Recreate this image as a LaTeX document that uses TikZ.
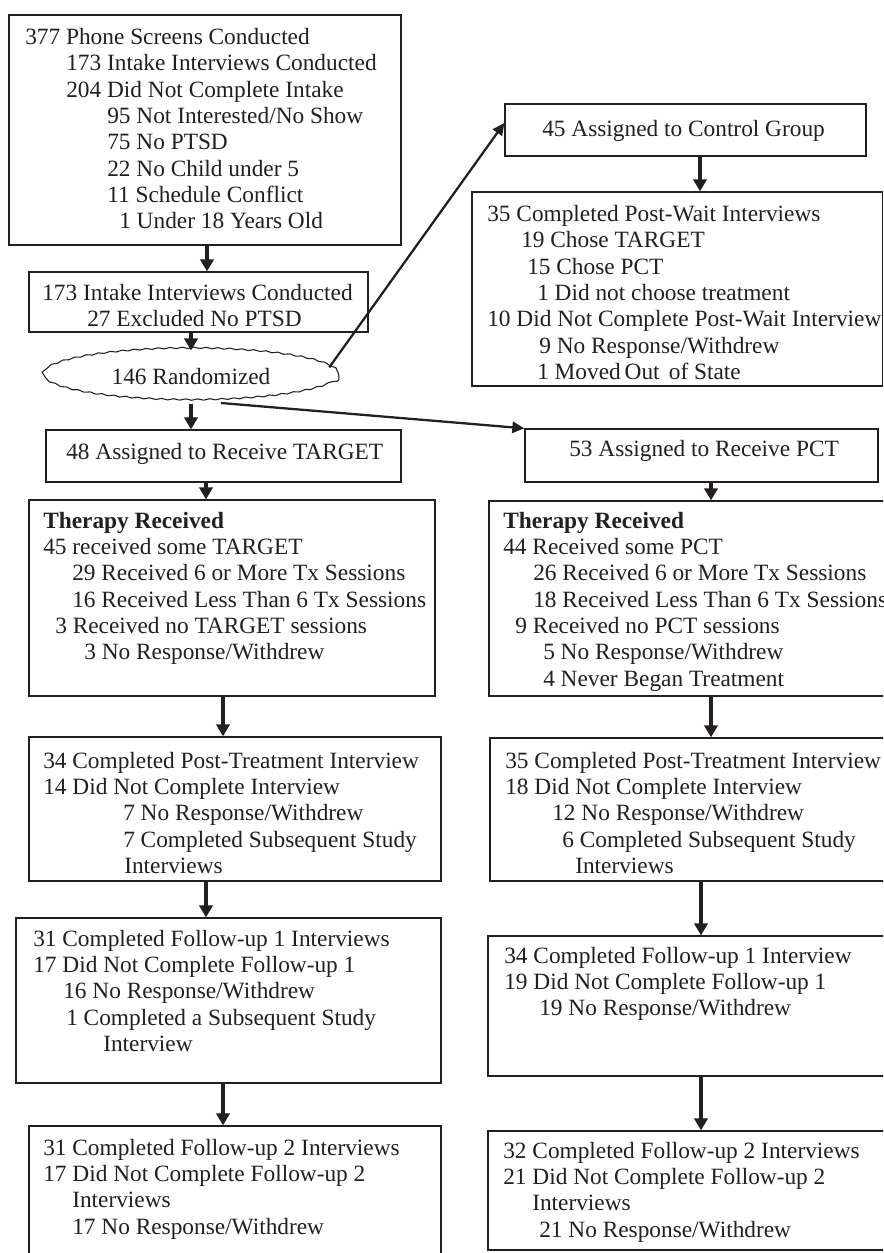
\documentclass[tikz,border=0pt]{standalone}
\usepackage{fontspec}
\setmainfont{Liberation Serif}
\usetikzlibrary{shapes.geometric,arrows.meta,decorations.pathmorphing,fit,calc}
\newlength\pxu \setlength\pxu{0.75pt}
\newcommand\ind[1]{\hspace*{#1\pxu}}
\newcommand\lns[1]{\begin{tabular}[t]{@{}l@{}}#1\end{tabular}}
\definecolor{ink}{RGB}{35,31,32}
\begin{document}
\begin{tikzpicture}[x=0.75pt,y=-0.75pt,
  box/.style={draw=ink, line width=1pt, inner sep=0pt},
  txt/.style={anchor=base west, inner sep=0pt, text=ink, font=\fontsize{17.5}{19.75}\selectfont},
  ell/.style={ellipse, draw=ink, line width=0.8pt, minimum width=222pt, minimum height=39pt,
    inner sep=0pt, text=ink, font=\fontsize{17.5}{19.75}\selectfont,
    decorate, decoration={snake, amplitude=0.5pt, segment length=9pt}},
  varr/.style={draw=ink, line width=2.6pt, -{Triangle[length=9pt,width=10pt]}},
  darr/.style={draw=ink, line width=1.7pt, -{Triangle[length=9pt,width=8.5pt]}},
]
\useasboundingbox (0,0) rectangle (883,1253);
\clip (0,0) rectangle (883,1253);
\fill[white] (0,0) rectangle (883,1253);

% ---------- boxes ----------
\node[box, fit={(9,15) (401,245)}] (b1) {};
\node[box, fit={(29,272) (368,332)}] (b2) {};
\node[ell] (rand) at (191,377) {146 Randomized};
\node[box, fit={(505,104) (866,156)}] (ctrl) {};
\node[box, fit={(472,192) (882.5,386)}] (wait) {};
\node[box, fit={(46,430) (401,482)}] (asgT) {};
\node[box, fit={(525,429) (878,482)}] (asgP) {};
\node[box, fit={(29,500) (435,696)}] (thT) {};
\node[box, fit={(489,501) (900,696)}] (thP) {};
\node[box, fit={(29,737) (441,881)}] (ptT) {};
\node[box, fit={(490,738) (900,881)}] (ptP) {};
\node[box, fit={(16,918) (441,1083)}] (f1T) {};
\node[box, fit={(488,936) (900,1076)}] (f1P) {};
\node[box, fit={(29,1126) (441,1262)}] (f2T) {};
\node[box, fit={(488,1131) (900,1250)}] (f2P) {};

% ---------- texts ----------
\node[txt] (t1) at (25,44.5) {\lns{377 Phone Screens Conducted\\
 \ind{41}173 Intake Interviews Conducted\\
 \ind{41}204 Did Not Complete Intake\\
 \ind{82}95 Not Interested/No Show\\
 \ind{82}75 No PTSD\\
 \ind{82}22 No Child under 5\\
 \ind{82}11 Schedule Conflict\\
 \ind{94}1 Under 18 Years Old}};
\node[txt] (t2) at (42,300) {\lns{173 Intake Interviews Conducted\\
 \ind{45}27 Excluded No PTSD}};
\node[txt] (t3) at (542,136.5) {45 Assigned to Control Group};
\node[txt] (t4) at (487,221.5) {\lns{35 Completed Post-Wait Interviews\\
 \ind{34}19 Chose TARGET\\
 \ind{40}15 Chose PCT\\
 \ind{50}1 Did not choose treatment\\
 10 Did Not Complete Post-Wait Interview\\
 \ind{52}9 No Response/Withdrew\\
 \ind{50}1 Moved\hspace{-1.5pt} Out\hspace{2.5pt} of State}};
\node[txt] (t5) at (66,459) {48 Assigned to Receive TARGET};
\node[txt] (t6) at (569,456) {53 Assigned to Receive PCT};
\node[txt] (t7) at (43,528) {\lns{\textbf{Therapy Received}\\
 45 received some TARGET\\
 \ind{29}29 Received 6 or More Tx Sessions\\
 \ind{29}16 Received Less Than 6 Tx Sessions\\
 \ind{12}3 Received no TARGET sessions\\
 \ind{41}3 No Response/Withdrew}};
\node[txt] (t8) at (503,528) {\lns{\textbf{Therapy Received}\\
 44 Received some PCT\\
 \ind{30}26 Received 6 or More Tx Sessions\\
 \ind{30}18 Received Less Than 6 Tx Sessions\\
 \ind{12}9 Received no PCT sessions\\
 \ind{40}5 No Response/Withdrew\\
 \ind{40}4 Never Began Treatment}};
\node[txt] (t9) at (43,768) {\lns{34 Completed Post-Treatment Interview\\
 14 Did Not Complete Interview\\
 \ind{80}7 No Response/Withdrew\\
 \ind{80}7 Completed Subsequent Study\\
 \ind{81}Interviews}};
\node[txt] (t10) at (505,768) {\lns{35 Completed Post-Treatment Interview\\
 18 Did Not Complete Interview\\
 \ind{47}12 No Response/Withdrew\\
 \ind{57}6 Completed Subsequent Study\\
 \ind{70}Interviews}};
\node[txt] (t11) at (33,946) {\lns{31 Completed Follow-up 1 Interviews\\
 17 Did Not Complete Follow-up 1\\
 \ind{30}16 No Response/Withdrew\\
 \ind{33}1 Completed a Subsequent Study\\
 \ind{70}Interview}};
\node[txt] (t12) at (504,963) {\lns{34 Completed Follow-up 1 Interview\\
 19 Did Not Complete Follow-up 1\\
 \ind{35}19 No Response/Withdrew}};
\node[txt] (t13) at (43,1155) {\lns{31 Completed Follow-up 2 Interviews\\
 17 Did Not Complete Follow-up 2\\
 \ind{29}Interviews\\
 \ind{29}17 No Response/Withdrew}};
\node[txt] (t14) at (503,1158) {\lns{32 Completed Follow-up 2 Interviews\\
 21 Did Not Complete Follow-up 2\\
 \ind{29}Interviews\\
 \ind{36}21 No Response/Withdrew}};

% ---------- connectors ----------
\coordinate (x207) at (207,0);
\coordinate (x206) at (206,0);
\coordinate (x223) at (223,0);
\coordinate (x700) at (700,0);
\coordinate (x711) at (711,0);
\coordinate (x701) at (701,0);
\coordinate (y123) at (0,123);

\draw[varr] (b1.south -| x207) -- (b2.north -| x207);
\draw[varr] (b2.south -| rand) -- (rand.north);
\draw[varr] (rand.south) -- (asgT.north -| rand);
\draw[darr] (rand.4) -- (ctrl.west |- y123);
\draw[darr] (rand.-41) -- (asgP.north west);
\draw[varr] (ctrl.south -| x700) -- (wait.north -| x700);
\draw[varr] (asgT.south -| x206) -- (thT.north -| x206);
\draw[varr] (asgP.south -| x711) -- (thP.north -| x711);
\draw[varr] (thT.south -| x223) -- (ptT.north -| x223);
\draw[varr] (thP.south -| x711) -- (ptP.north -| x711);
\draw[varr] (ptT.south -| x206) -- (f1T.north -| x206);
\draw[varr] (ptP.south -| x701) -- (f1P.north -| x701);
\draw[varr] (f1T.south -| x223) -- (f2T.north -| x223);
\draw[varr] (f1P.south -| x701) -- (f2P.north -| x701);
\end{tikzpicture}
\end{document}
